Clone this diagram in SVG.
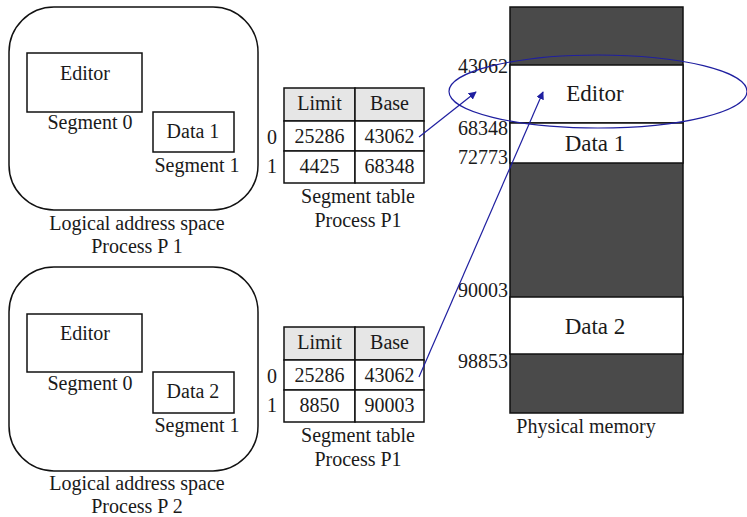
<svg xmlns="http://www.w3.org/2000/svg" width="747" height="517" viewBox="0 0 747 517">
<style>
text{font-family:"Liberation Serif","Times New Roman",serif;font-size:20px;fill:#1a1a1a}
.c{text-anchor:middle}
.r{text-anchor:end}
.big{font-size:23px}
.box{fill:#fff;stroke:#111;stroke-width:1.5}
.hdr{fill:#e6e6e6;stroke:#111;stroke-width:1.5}
.cell{fill:#fff;stroke:#111;stroke-width:1.5}
.dark{fill:#4a4a4a;stroke:#111;stroke-width:1.5}
.conn{stroke:#1f1fa0;stroke-width:1.2;fill:none}
</style>
<defs>
<marker id="ah" viewBox="0 0 10 10" refX="9" refY="5" markerWidth="8" markerHeight="8" markerUnits="userSpaceOnUse" orient="auto">
<path d="M0,0 L10,5 L0,10 z" fill="#1f1fa0"/>
</marker>
</defs>

<g id="logical1">
<rect class="box" x="9" y="7" width="249" height="203" rx="45" ry="45"/>
<rect class="box" x="27" y="53" width="115" height="59"/>
<text class="c" x="85" y="80">Editor</text>
<text class="c" x="90" y="129">Segment 0</text>
<rect class="box" x="153" y="112" width="81" height="40"/>
<text class="c" x="193" y="138">Data 1</text>
<text class="c" x="197" y="172">Segment 1</text>
<text class="c" x="137" y="230">Logical address space</text>
<text class="c" x="137" y="253">Process P 1</text>
</g>

<g id="logical2">
<rect class="box" x="9" y="267" width="249" height="204" rx="45" ry="45"/>
<rect class="box" x="27" y="314" width="115" height="58"/>
<text class="c" x="85" y="340">Editor</text>
<text class="c" x="90" y="390">Segment 0</text>
<rect class="box" x="153" y="372" width="81" height="41"/>
<text class="c" x="193" y="398">Data 2</text>
<text class="c" x="197" y="432">Segment 1</text>
<text class="c" x="137" y="490">Logical address space</text>
<text class="c" x="137" y="513">Process P 2</text>
</g>

<g id="table1">
<rect class="hdr" x="284" y="88" width="71" height="33"/>
<rect class="hdr" x="355" y="88" width="69" height="33"/>
<rect class="cell" x="284" y="121" width="71" height="30"/>
<rect class="cell" x="355" y="121" width="69" height="30"/>
<rect class="cell" x="284" y="151" width="71" height="32"/>
<rect class="cell" x="355" y="151" width="69" height="32"/>
<text class="c" x="319.5" y="110">Limit</text>
<text class="c" x="389.5" y="110">Base</text>
<text class="c" x="319.5" y="143">25286</text>
<text class="c" x="389.5" y="143">43062</text>
<text class="c" x="319.5" y="173">4425</text>
<text class="c" x="389.5" y="173">68348</text>
<text class="c" x="272" y="144">0</text>
<text class="c" x="272" y="173">1</text>
<text class="c" x="358" y="203">Segment table</text>
<text class="c" x="358" y="227">Process P1</text>
</g>

<g id="table2">
<rect class="hdr" x="284" y="327" width="71" height="33"/>
<rect class="hdr" x="355" y="327" width="69" height="33"/>
<rect class="cell" x="284" y="360" width="71" height="30"/>
<rect class="cell" x="355" y="360" width="69" height="30"/>
<rect class="cell" x="284" y="390" width="71" height="32"/>
<rect class="cell" x="355" y="390" width="69" height="32"/>
<text class="c" x="319.5" y="349">Limit</text>
<text class="c" x="389.5" y="349">Base</text>
<text class="c" x="319.5" y="382">25286</text>
<text class="c" x="389.5" y="382">43062</text>
<text class="c" x="319.5" y="412">8850</text>
<text class="c" x="389.5" y="412">90003</text>
<text class="c" x="272" y="383">0</text>
<text class="c" x="272" y="412">1</text>
<text class="c" x="358" y="442">Segment table</text>
<text class="c" x="358" y="466">Process P1</text>
</g>

<g id="memory">
<rect class="dark" x="510" y="7" width="173" height="406"/>
<rect class="box" x="510" y="65" width="173" height="58"/>
<rect class="box" x="510" y="123" width="173" height="40"/>
<rect class="box" x="510" y="297" width="173" height="57"/>
<text class="c big" x="595" y="101">Editor</text>
<text class="c big" x="595" y="151">Data 1</text>
<text class="c big" x="595" y="334">Data 2</text>
<text class="r" x="508" y="73">43062</text>
<text class="r" x="508" y="135">68348</text>
<text class="r" x="508" y="164">72773</text>
<text class="r" x="508" y="297">90003</text>
<text class="r" x="508" y="368">98853</text>
<text class="c" x="586" y="433">Physical memory</text>
</g>

<g id="connectors">
<ellipse class="conn" cx="598" cy="91.5" rx="149" ry="36.5"/>
<line class="conn" x1="419" y1="137" x2="476" y2="92" marker-end="url(#ah)"/>
<line class="conn" x1="419" y1="377" x2="543" y2="92" marker-end="url(#ah)"/>
</g>
</svg>
